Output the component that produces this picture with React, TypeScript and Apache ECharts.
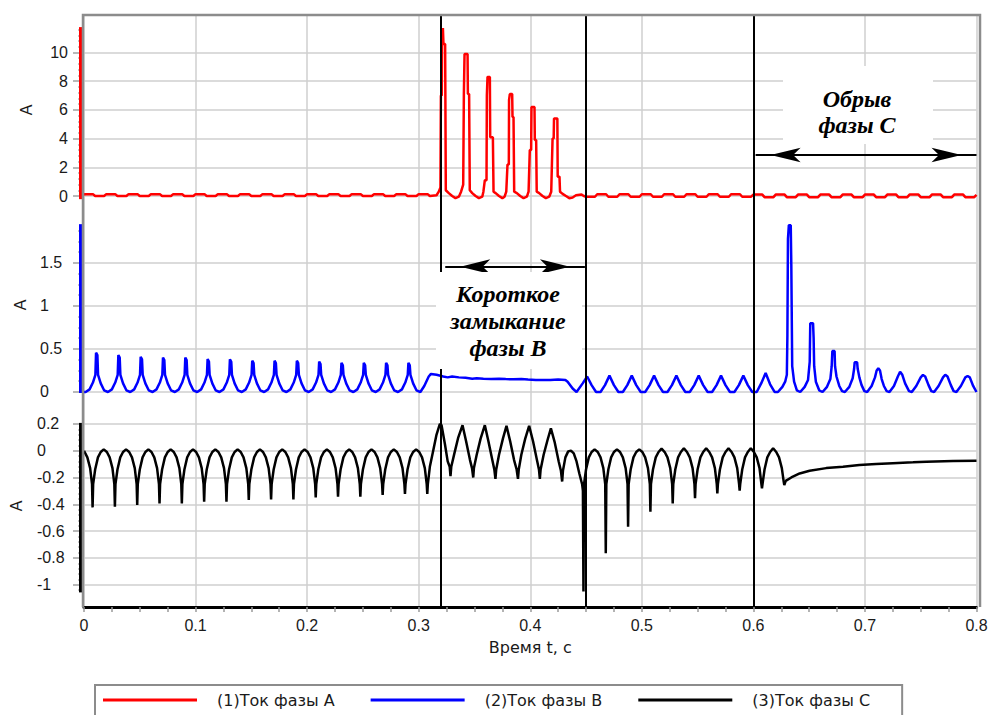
import React, { useEffect, useRef } from 'react';
import * as echarts from 'echarts';

// ---------- data ----------
const seriesNames = ['(1)Ток фазы А', '(2)Ток фазы В', '(3)Ток фазы С'];
const seriesColors = ['#ff0000', '#0000ff', '#000000'];
const xTickStep = 0.1;
const yTicksA = [0, 2, 4, 6, 8, 10];
const yTicksB = [0, 0.5, 1, 1.5];
const yTicksC = [0.2, 0, -0.2, -0.4, -0.6, -0.8, -1];
const eventTimes = [0.3238, 0.449, 0.602];
const shortCircuitArrow = { from: 0.3238, to: 0.449, level: 1.457 };
const openPhaseArrow = { from: 0.602, to: 0.8, level: 2.857 };

const phaseA = [
  [0.000, 0.08], [0.001, 0.13], [0.008, 0.13], [0.010, 0.00],
  [0.018, 0.00], [0.020, 0.13], [0.028, 0.13], [0.030, 0.00],
  [0.038, 0.00], [0.040, 0.13], [0.048, 0.13], [0.050, 0.00],
  [0.058, 0.00], [0.060, 0.13], [0.068, 0.13], [0.070, 0.00],
  [0.078, 0.00], [0.080, 0.13], [0.088, 0.13], [0.090, 0.00],
  [0.098, 0.00], [0.100, 0.13], [0.108, 0.13], [0.110, 0.00],
  [0.118, 0.00], [0.120, 0.13], [0.128, 0.13], [0.130, 0.00],
  [0.138, 0.00], [0.140, 0.13], [0.148, 0.13], [0.150, 0.00],
  [0.158, 0.00], [0.160, 0.13], [0.168, 0.13], [0.170, 0.00],
  [0.178, 0.00], [0.180, 0.13], [0.188, 0.13], [0.190, 0.00],
  [0.198, 0.00], [0.200, 0.13], [0.208, 0.13], [0.210, 0.00],
  [0.218, 0.00], [0.220, 0.13], [0.228, 0.13], [0.230, 0.00],
  [0.238, 0.00], [0.240, 0.13], [0.248, 0.13], [0.250, 0.00],
  [0.258, 0.00], [0.260, 0.13], [0.268, 0.13], [0.270, 0.00],
  [0.278, 0.00], [0.280, 0.13], [0.288, 0.13], [0.290, 0.00],
  [0.298, 0.00], [0.300, 0.13], [0.308, 0.13], [0.310, 0.00],
  [0.316, 0.05], [0.318, 0.30],
  [0.3195, 0.6], [0.3199, 7.0], [0.3207, 7.0], [0.3210, 11.3], [0.3217, 11.7], [0.3222, 10.6], [0.3237, 10.6], [0.3243, 0.4],
  [0.327, 0.2], [0.330, 0.0], [0.333, -0.15], [0.336, -0.05], [0.338, 0.3],
  [0.3399, 0.8], [0.3405, 7.1], [0.3411, 9.9], [0.3438, 9.9], [0.3441, 7.1], [0.3452, 7.1], [0.3458, 0.4],
  [0.348, 0.2], [0.351, 0.0], [0.354, -0.15], [0.357, -0.05], [0.358, 0.3],
  [0.3593, 1.1], [0.3608, 1.1], [0.3611, 7.0], [0.3617, 8.3], [0.3638, 8.3], [0.3641, 4.1], [0.3665, 4.1], [0.3671, 0.3],
  [0.369, 0.2], [0.372, 0.0], [0.375, -0.15], [0.377, -0.05], [0.3785, 0.3],
  [0.3796, 2.2], [0.3808, 2.2], [0.3810, 6.7], [0.3817, 7.1], [0.3838, 7.1], [0.3841, 5.5], [0.3850, 5.5], [0.3856, 0.3],
  [0.388, 0.2], [0.391, 0.0], [0.394, -0.15], [0.397, -0.05], [0.3985, 0.3],
  [0.3996, 3.2], [0.4008, 3.2], [0.4011, 6.2], [0.4038, 6.2], [0.4041, 3.9], [0.4053, 3.9], [0.4058, 0.3],
  [0.408, 0.2], [0.411, 0.0], [0.414, -0.15], [0.417, -0.05], [0.4188, 0.3],
  [0.4200, 4.0], [0.4210, 4.0], [0.4213, 5.4], [0.4243, 5.4], [0.4246, 1.35], [0.4262, 1.35], [0.4267, 0.3],
  [0.429, 0.15], [0.432, 0.0], [0.435, -0.15], [0.438, -0.1], [0.441, 0.05], [0.446, 0.1], [0.448, 0.0],
  [0.450, -0.05], [0.458, -0.05], [0.460, 0.12], [0.468, 0.12], [0.470, -0.05],
  [0.478, -0.05], [0.480, 0.12], [0.488, 0.12], [0.490, -0.05],
  [0.498, -0.05], [0.500, 0.12], [0.508, 0.12], [0.510, -0.05],
  [0.518, -0.05], [0.520, 0.12], [0.528, 0.12], [0.530, -0.05],
  [0.538, -0.05], [0.540, 0.12], [0.548, 0.12], [0.550, -0.05],
  [0.558, -0.05], [0.560, 0.12], [0.568, 0.12], [0.570, -0.05],
  [0.578, -0.05], [0.580, 0.12], [0.588, 0.12], [0.590, -0.05],
  [0.598, -0.05], [0.600, 0.10], [0.608, 0.10], [0.610, -0.08],
  [0.618, -0.08], [0.620, 0.10], [0.628, 0.10], [0.630, -0.08],
  [0.638, -0.08], [0.640, 0.10], [0.648, 0.10], [0.650, -0.08],
  [0.658, -0.08], [0.660, 0.10], [0.668, 0.10], [0.670, -0.08],
  [0.678, -0.08], [0.680, 0.10], [0.688, 0.10], [0.690, -0.08],
  [0.698, -0.08], [0.700, 0.10], [0.708, 0.10], [0.710, -0.08],
  [0.718, -0.08], [0.720, 0.10], [0.728, 0.10], [0.730, -0.08],
  [0.738, -0.08], [0.740, 0.10], [0.748, 0.10], [0.750, -0.08],
  [0.758, -0.08], [0.760, 0.10], [0.768, 0.10], [0.770, -0.08],
  [0.778, -0.08], [0.780, 0.10], [0.788, 0.10], [0.790, -0.08],
  [0.798, -0.08], [0.800, 0.08],
];

const phaseB = [
  [0.0000, 0.00], [0.0015, 0.00], [0.0050, 0.03], [0.0080, 0.11], [0.0102, 0.20], [0.0108, 0.457], [0.0120, 0.43], [0.0126, 0.20], [0.0150, 0.10], [0.0180, 0.02],
  [0.0215, 0.00], [0.0250, 0.03], [0.0280, 0.11], [0.0302, 0.20], [0.0308, 0.43], [0.0320, 0.40], [0.0326, 0.20], [0.0350, 0.10], [0.0380, 0.02],
  [0.0415, 0.00], [0.0450, 0.03], [0.0480, 0.11], [0.0502, 0.20], [0.0508, 0.41], [0.0520, 0.38], [0.0526, 0.20], [0.0550, 0.10], [0.0580, 0.02],
  [0.0615, 0.00], [0.0650, 0.03], [0.0680, 0.11], [0.0702, 0.20], [0.0708, 0.40], [0.0720, 0.37], [0.0726, 0.20], [0.0750, 0.10], [0.0780, 0.02],
  [0.0815, 0.00], [0.0850, 0.03], [0.0880, 0.11], [0.0902, 0.20], [0.0908, 0.40], [0.0920, 0.37], [0.0926, 0.20], [0.0950, 0.10], [0.0980, 0.02],
  [0.1015, 0.00], [0.1050, 0.03], [0.1080, 0.11], [0.1102, 0.20], [0.1108, 0.384], [0.1120, 0.355], [0.1126, 0.20], [0.1150, 0.10], [0.1180, 0.02],
  [0.1215, 0.00], [0.1250, 0.03], [0.1280, 0.11], [0.1302, 0.20], [0.1308, 0.38], [0.1320, 0.35], [0.1326, 0.20], [0.1350, 0.10], [0.1380, 0.02],
  [0.1415, 0.00], [0.1450, 0.03], [0.1480, 0.11], [0.1502, 0.20], [0.1508, 0.364], [0.1520, 0.335], [0.1526, 0.20], [0.1550, 0.10], [0.1580, 0.02],
  [0.1615, 0.00], [0.1650, 0.03], [0.1680, 0.11], [0.1702, 0.20], [0.1708, 0.364], [0.1720, 0.335], [0.1726, 0.20], [0.1750, 0.10], [0.1780, 0.02],
  [0.1815, 0.00], [0.1850, 0.03], [0.1880, 0.11], [0.1902, 0.20], [0.1908, 0.364], [0.1920, 0.335], [0.1926, 0.20], [0.1950, 0.10], [0.1980, 0.02],
  [0.2015, 0.00], [0.2050, 0.03], [0.2080, 0.11], [0.2102, 0.20], [0.2108, 0.353], [0.2120, 0.325], [0.2126, 0.20], [0.2150, 0.10], [0.2180, 0.02],
  [0.2215, 0.00], [0.2250, 0.03], [0.2280, 0.11], [0.2302, 0.20], [0.2308, 0.34], [0.2320, 0.31], [0.2326, 0.20], [0.2350, 0.10], [0.2380, 0.02],
  [0.2415, 0.00], [0.2450, 0.03], [0.2480, 0.11], [0.2502, 0.20], [0.2508, 0.34], [0.2520, 0.31], [0.2526, 0.20], [0.2550, 0.10], [0.2580, 0.02],
  [0.2615, 0.00], [0.2650, 0.03], [0.2680, 0.11], [0.2702, 0.20], [0.2708, 0.34], [0.2720, 0.31], [0.2726, 0.20], [0.2750, 0.10], [0.2780, 0.02],
  [0.2815, 0.00], [0.2850, 0.03], [0.2880, 0.11], [0.2902, 0.20], [0.2908, 0.34], [0.2920, 0.31], [0.2926, 0.20], [0.2950, 0.10], [0.2980, 0.02],
  [0.3015, 0.00], [0.3050, 0.07], [0.3090, 0.18], [0.3110, 0.21], [0.3160, 0.20], [0.3220, 0.18], [0.3260, 0.17], [0.3300, 0.18],
  [0.3360, 0.17], [0.3420, 0.165], [0.3480, 0.155], [0.3520, 0.16], [0.3580, 0.155], [0.3650, 0.15], [0.3720, 0.155], [0.3780, 0.15],
  [0.3850, 0.148], [0.3920, 0.15], [0.3980, 0.145], [0.4050, 0.14], [0.4120, 0.14], [0.4180, 0.14], [0.4250, 0.145], [0.4315, 0.14],
  [0.4335, 0.12], [0.4380, 0.04], [0.4415, 0.00],
  [0.4470, 0.10], [0.4510, 0.18], [0.4550, 0.08], [0.4590, 0.00],
  [0.4630, 0.00], [0.4670, 0.08], [0.4710, 0.19], [0.4750, 0.08], [0.4790, 0.00],
  [0.4830, 0.00], [0.4870, 0.08], [0.4910, 0.19], [0.4950, 0.08], [0.4990, 0.00],
  [0.5030, 0.00], [0.5070, 0.08], [0.5110, 0.19], [0.5150, 0.08], [0.5190, 0.00],
  [0.5230, 0.00], [0.5270, 0.08], [0.5310, 0.19], [0.5350, 0.08], [0.5390, 0.00],
  [0.5430, 0.00], [0.5470, 0.08], [0.5510, 0.19], [0.5550, 0.08], [0.5590, 0.00],
  [0.5630, 0.00], [0.5670, 0.08], [0.5710, 0.19], [0.5750, 0.08], [0.5790, 0.00],
  [0.5830, 0.00], [0.5870, 0.08], [0.5910, 0.19], [0.5950, 0.08], [0.5990, 0.00],
  [0.6030, 0.00], [0.6070, 0.10], [0.6110, 0.22], [0.6150, 0.09], [0.6190, 0.00],
  [0.6220, 0.00], [0.6260, 0.06], [0.6285, 0.12], [0.6300, 0.20], [0.6305, 0.66], [0.6310, 1.78], [0.6318, 1.94], [0.6335, 1.94], [0.6340, 1.48], [0.6348, 0.30], [0.6365, 0.12], [0.6390, 0.02],
  [0.6420, 0.00], [0.6460, 0.06], [0.6490, 0.14], [0.6505, 0.35], [0.6510, 0.80], [0.6535, 0.80], [0.6540, 0.63], [0.6545, 0.30], [0.6560, 0.12], [0.6590, 0.02],
  [0.6620, 0.00], [0.6660, 0.06], [0.6690, 0.15], [0.6702, 0.30], [0.6708, 0.477], [0.6728, 0.477], [0.6732, 0.30], [0.6745, 0.18], [0.6770, 0.07], [0.6795, 0.01],
  [0.6820, 0.00], [0.6860, 0.06], [0.6890, 0.16], [0.6903, 0.27], [0.6908, 0.345], [0.6930, 0.345], [0.6935, 0.27], [0.6950, 0.17], [0.6970, 0.08], [0.6995, 0.01],
  [0.7020, 0.00], [0.7060, 0.07], [0.7090, 0.17], [0.7105, 0.25], [0.7120, 0.275], [0.7135, 0.25], [0.7150, 0.15], [0.7170, 0.07], [0.7195, 0.01],
  [0.7220, 0.00], [0.7260, 0.07], [0.7295, 0.18], [0.7315, 0.236], [0.7335, 0.20], [0.7360, 0.10], [0.7395, 0.01],
  [0.7420, 0.00], [0.7460, 0.07], [0.7500, 0.17], [0.7520, 0.198], [0.7540, 0.18], [0.7570, 0.08], [0.7595, 0.01],
  [0.7620, 0.00], [0.7660, 0.07], [0.7700, 0.17], [0.7720, 0.20], [0.7740, 0.18], [0.7770, 0.08], [0.7795, 0.01],
  [0.7820, 0.00], [0.7860, 0.07], [0.7900, 0.17], [0.7920, 0.186], [0.7940, 0.17], [0.7970, 0.07], [0.8000, 0.00],
];

const phaseC = [
  [0.0000, 0.00], [0.0030, -0.05], [0.0055, -0.13], [0.0072, -0.25],
  [0.0077, -0.423],
  [0.0082, -0.25], [0.0100, -0.14], [0.0125, -0.05], [0.0150, -0.01], [0.0177, 0.01], [0.0205, -0.01], [0.0230, -0.05], [0.0255, -0.13], [0.0272, -0.25],
  [0.0277, -0.418],
  [0.0282, -0.25], [0.0300, -0.14], [0.0325, -0.05], [0.0350, -0.01], [0.0377, 0.01], [0.0405, -0.01], [0.0430, -0.05], [0.0455, -0.13], [0.0472, -0.25],
  [0.0477, -0.405],
  [0.0482, -0.25], [0.0500, -0.14], [0.0525, -0.05], [0.0550, -0.01], [0.0577, 0.01], [0.0605, -0.01], [0.0630, -0.05], [0.0655, -0.13], [0.0672, -0.25],
  [0.0677, -0.393],
  [0.0682, -0.25], [0.0700, -0.14], [0.0725, -0.05], [0.0750, -0.01], [0.0777, 0.01], [0.0805, -0.01], [0.0830, -0.05], [0.0855, -0.13], [0.0872, -0.25],
  [0.0877, -0.393],
  [0.0882, -0.25], [0.0900, -0.14], [0.0925, -0.05], [0.0950, -0.01], [0.0977, 0.01], [0.1005, -0.01], [0.1030, -0.05], [0.1055, -0.13], [0.1072, -0.25],
  [0.1077, -0.38],
  [0.1082, -0.25], [0.1100, -0.14], [0.1125, -0.05], [0.1150, -0.01], [0.1177, 0.01], [0.1205, -0.01], [0.1230, -0.05], [0.1255, -0.13], [0.1272, -0.25],
  [0.1277, -0.38],
  [0.1282, -0.25], [0.1300, -0.14], [0.1325, -0.05], [0.1350, -0.01], [0.1377, 0.01], [0.1405, -0.01], [0.1430, -0.05], [0.1455, -0.13], [0.1472, -0.25],
  [0.1477, -0.368],
  [0.1482, -0.25], [0.1500, -0.14], [0.1525, -0.05], [0.1550, -0.01], [0.1577, 0.01], [0.1605, -0.01], [0.1630, -0.05], [0.1655, -0.13], [0.1672, -0.25],
  [0.1677, -0.363],
  [0.1682, -0.25], [0.1700, -0.14], [0.1725, -0.05], [0.1750, -0.01], [0.1777, 0.01], [0.1805, -0.01], [0.1830, -0.05], [0.1855, -0.13], [0.1872, -0.25],
  [0.1877, -0.363],
  [0.1882, -0.25], [0.1900, -0.14], [0.1925, -0.05], [0.1950, -0.01], [0.1977, 0.01], [0.2005, -0.01], [0.2030, -0.05], [0.2055, -0.13], [0.2072, -0.25],
  [0.2077, -0.348],
  [0.2082, -0.25], [0.2100, -0.14], [0.2125, -0.05], [0.2150, -0.01], [0.2177, 0.01], [0.2205, -0.01], [0.2230, -0.05], [0.2255, -0.13], [0.2272, -0.25],
  [0.2277, -0.343],
  [0.2282, -0.25], [0.2300, -0.14], [0.2325, -0.05], [0.2350, -0.01], [0.2377, 0.01], [0.2405, -0.01], [0.2430, -0.05], [0.2455, -0.13], [0.2472, -0.25],
  [0.2477, -0.343],
  [0.2482, -0.25], [0.2500, -0.14], [0.2525, -0.05], [0.2550, -0.01], [0.2577, 0.01], [0.2605, -0.01], [0.2630, -0.05], [0.2655, -0.13], [0.2672, -0.25],
  [0.2677, -0.33],
  [0.2682, -0.25], [0.2700, -0.14], [0.2725, -0.05], [0.2750, -0.01], [0.2777, 0.01], [0.2805, -0.01], [0.2830, -0.05], [0.2855, -0.13], [0.2872, -0.25],
  [0.2877, -0.323],
  [0.2882, -0.25], [0.2900, -0.14], [0.2925, -0.05], [0.2950, -0.01], [0.2977, 0.01], [0.3005, -0.01], [0.3030, -0.05], [0.3055, -0.13], [0.3072, -0.25],
  [0.3077, -0.323],
  [0.3082, -0.25], [0.3100, -0.12], [0.3130, 0.00], [0.3160, 0.12], [0.3190, 0.20], [0.3205, 0.19], [0.3235, 0.05], [0.3260, -0.08], [0.3278, -0.12],
  [0.3285, -0.19], [0.3292, -0.12], [0.3320, -0.02], [0.3355, 0.10], [0.3393, 0.19], [0.3425, 0.07], [0.3460, -0.07], [0.3478, -0.13],
  [0.3489, -0.20], [0.3495, -0.13], [0.3520, -0.03], [0.3555, 0.09], [0.3593, 0.19], [0.3625, 0.07], [0.3660, -0.07], [0.3678, -0.14],
  [0.3688, -0.21], [0.3695, -0.14], [0.3720, -0.03], [0.3755, 0.09], [0.3787, 0.185], [0.3820, 0.07], [0.3855, -0.07], [0.3878, -0.14],
  [0.3890, -0.21], [0.3897, -0.14], [0.3920, -0.03], [0.3955, 0.09], [0.3990, 0.185], [0.4025, 0.07], [0.4060, -0.07], [0.4078, -0.14],
  [0.4086, -0.21], [0.4093, -0.14], [0.4120, -0.03], [0.4155, 0.08], [0.4185, 0.167], [0.4220, 0.06], [0.4255, -0.08], [0.4275, -0.15],
  [0.4286, -0.23], [0.4293, -0.15], [0.4315, -0.05], [0.4340, -0.005], [0.4365, 0.00], [0.4390, -0.02], [0.4415, -0.08], [0.4440, -0.17],
  [0.4465, -0.25], [0.4472, -0.30],
  [0.4477, -1.05],
  [0.4482, -0.25], [0.4500, -0.14], [0.4525, -0.05], [0.4550, -0.01], [0.4577, 0.01], [0.4605, -0.01], [0.4630, -0.05], [0.4655, -0.13], [0.4672, -0.25],
  [0.4677, -0.766],
  [0.4682, -0.25], [0.4700, -0.14], [0.4725, -0.05], [0.4750, -0.01], [0.4777, 0.01], [0.4805, -0.01], [0.4830, -0.05], [0.4855, -0.13], [0.4872, -0.25],
  [0.4877, -0.567],
  [0.4882, -0.25], [0.4900, -0.14], [0.4925, -0.05], [0.4950, -0.01], [0.4977, 0.01], [0.5005, -0.01], [0.5030, -0.05], [0.5055, -0.13], [0.5072, -0.25],
  [0.5077, -0.455],
  [0.5082, -0.25], [0.5100, -0.14], [0.5125, -0.05], [0.5150, -0.01], [0.5177, 0.015], [0.5205, -0.01], [0.5230, -0.05], [0.5255, -0.13], [0.5272, -0.25],
  [0.5277, -0.393],
  [0.5282, -0.25], [0.5300, -0.14], [0.5325, -0.05], [0.5350, -0.01], [0.5377, 0.018], [0.5405, -0.01], [0.5430, -0.05], [0.5455, -0.13], [0.5472, -0.25],
  [0.5477, -0.355],
  [0.5482, -0.25], [0.5500, -0.14], [0.5525, -0.05], [0.5550, -0.01], [0.5577, 0.018], [0.5605, -0.01], [0.5630, -0.05], [0.5655, -0.13], [0.5672, -0.25],
  [0.5677, -0.318],
  [0.5682, -0.25], [0.5700, -0.14], [0.5725, -0.05], [0.5750, -0.01], [0.5777, 0.018], [0.5805, -0.01], [0.5830, -0.05], [0.5855, -0.13], [0.5872, -0.25],
  [0.5877, -0.298],
  [0.5882, -0.25], [0.5900, -0.14], [0.5925, -0.05], [0.5950, -0.01], [0.5977, 0.018], [0.6005, -0.01], [0.6030, -0.05], [0.6055, -0.13], [0.6072, -0.25],
  [0.6077, -0.28],
  [0.6082, -0.25], [0.6100, -0.14], [0.6125, -0.05], [0.6150, -0.01], [0.6177, 0.018], [0.6205, -0.01], [0.6230, -0.05], [0.6255, -0.13], [0.6270, -0.22],
  [0.6277, -0.256],
  [0.6290, -0.225], [0.6340, -0.20], [0.6415, -0.17], [0.6504, -0.15], [0.6653, -0.13], [0.6803, -0.12], [0.6950, -0.107],
  [0.7100, -0.10], [0.7250, -0.094], [0.7430, -0.087], [0.7550, -0.082], [0.7790, -0.077], [0.8000, -0.075],
];

// ---------- layout ----------
const GRID_LEFT = 84;
const GRID_RIGHT = 13.5;
const panels = [
  { top: 15, height: 190, min: -0.627, max: 12.613, ticks: yTicksA, minorStep: 0.4, align: 'right', margin: 16, nameGap: 50, data: phaseA },
  { top: 205, height: 200, min: -0.1512, max: 2.1744, ticks: yTicksB, minorStep: 0.125, align: 'left', margin: 44, nameGap: 56, data: phaseB },
  { top: 405, height: 202, min: -1.1664, max: 0.341, ticks: yTicksC, minorStep: 0.04, align: 'left', margin: 47, nameGap: 60, data: phaseC },
];

const GRID_COLOR = '#cfcfcf';
const FRAME_COLOR = '#8c8c8c';
const TEXT_COLOR = '#1a1a1a';

function extent(arr: number[][]) {
  let lo = Infinity, hi = -Infinity;
  for (const p of arr) { if (p[1] < lo) lo = p[1]; if (p[1] > hi) hi = p[1]; }
  return [lo, hi];
}

function minorValues(lo: number, hi: number, step: number, majors: number[]) {
  const out: number[] = [];
  const n0 = Math.ceil(lo / step), n1 = Math.floor(hi / step);
  for (let n = n0; n <= n1; n++) {
    const v = +(n * step).toFixed(6);
    if (!majors.some((m) => Math.abs(m - v) < 1e-9)) out.push(v);
  }
  return out;
}

function buildOption() {
  const grid = panels.map((p) => ({
    left: GRID_LEFT, right: GRID_RIGHT, top: p.top, height: p.height,
    containLabel: false, outerBoundsMode: 'none',
  }));

  const xAxis = panels.map((p, i) => ({
    type: 'value', gridIndex: i, min: 0, max: 0.8, interval: xTickStep,
    axisLine: i === 2 ? { show: true, onZero: false, lineStyle: { color: '#000', width: 3 } } : { show: false },
    axisTick: i === 2 ? { show: true, length: 5, lineStyle: { color: '#9a9a9a', width: 1.5 } } : { show: false },
    minorTick: i === 2 ? { show: true, splitNumber: 4, length: 5, lineStyle: { color: '#9a9a9a', width: 1.5 } } : { show: false },
    axisLabel: i === 2 ? { show: true, margin: 10, fontSize: 16, fontFamily: 'Liberation Sans', color: TEXT_COLOR } : { show: false },
    splitLine: { show: true, lineStyle: { color: GRID_COLOR, width: 1.5 } },
    name: i === 2 ? 'Время t, с' : '',
    nameLocation: 'middle', nameGap: 32,
    nameTextStyle: { fontSize: 16, fontFamily: 'DejaVu Sans', color: TEXT_COLOR },
  }));

  const yAxis: any[] = [];
  panels.forEach((p, i) => {
    const [lo, hi] = extent(p.data);
    yAxis.push({
      type: 'value', gridIndex: i, min: p.min, max: p.max, position: 'left',
      axisLine: { show: false },
      axisTick: { show: true, customValues: p.ticks, length: 11, lineStyle: { color: '#a0a0a0', width: 1.5 } },
      axisLabel: { show: true, customValues: p.ticks, align: p.align, margin: p.margin, fontSize: 16, fontFamily: 'Liberation Sans', color: TEXT_COLOR },
      splitLine: { show: true, lineStyle: { color: GRID_COLOR, width: 1.5 } },
      name: 'А', nameLocation: 'middle', nameGap: p.nameGap,
      nameTextStyle: { fontSize: 16, fontFamily: 'Liberation Sans', color: TEXT_COLOR },
    });
    yAxis.push({
      type: 'value', gridIndex: i, min: p.min, max: p.max, position: 'left',
      axisLine: { show: false }, axisLabel: { show: false }, splitLine: { show: false },
      axisTick: { show: true, customValues: minorValues(lo, hi, p.minorStep, p.ticks), length: 6, lineStyle: { color: '#b4b4b4', width: 1.5 } },
    });
  });

  const series: any[] = [];
  panels.forEach((p, i) => {
    const markData: any[] = eventTimes.map((t) => ({ xAxis: t }));
    const arrow = i === 1 ? shortCircuitArrow : i === 0 ? openPhaseArrow : null;
    if (arrow) {
      const end = { symbol: 'arrow', symbolSize: [11, 30], symbolOffset: [0, 15] };
      markData.push([
        { coord: [arrow.from, arrow.level], ...end },
        { coord: [arrow.to, arrow.level], ...end },
      ]);
    }
    series.push({
      type: 'line', name: seriesNames[i], xAxisIndex: i, yAxisIndex: i * 2,
      data: p.data, showSymbol: false, symbol: 'none',
      lineStyle: { color: seriesColors[i], width: 2.5 },
      itemStyle: { color: seriesColors[i] },
      emphasis: { disabled: true },
      z: 3,
      markLine: {
        silent: true, symbol: ['none', 'none'], label: { show: false },
        lineStyle: { color: '#000', width: 2, type: 'solid' },
        emphasis: { disabled: true },
        data: markData,
      },
    });
    const [lo, hi] = extent(p.data);
    series.push({
      type: 'custom', name: 'range' + i, xAxisIndex: i, yAxisIndex: i * 2,
      silent: true, clip: false, z: 4,
      data: [[0, hi, lo]],
      encode: { x: 0, y: [1, 2] },
      renderItem: (params: any, api: any) => {
        const a = api.coord([api.value(0), api.value(1)]);
        const b = api.coord([api.value(0), api.value(2)]);
        return {
          type: 'rect',
          shape: { x: a[0] - 5, y: a[1] - 1, width: 3, height: b[1] - a[1] + 2 },
          style: { fill: seriesColors[i] },
        };
      },
    });
  });

  const noteFont = { fontFamily: 'Liberation Serif', fontSize: 24, fontWeight: 'bold', fontStyle: 'italic' };

  return {
    animation: false,
    backgroundColor: '#ffffff',
    grid, xAxis, yAxis, series,
    legend: {
      data: seriesNames, left: 95, top: 685,
      padding: [7, 32, 30, 8],
      icon: 'rect',
      itemWidth: 94, itemHeight: 3, itemGap: 36,
      borderColor: FRAME_COLOR, borderWidth: 2,
      selectedMode: false,
      textStyle: { fontSize: 16, fontFamily: 'DejaVu Sans', color: TEXT_COLOR, padding: [0, 0, 0, 15] },
    },
    graphic: [
      {
        type: 'polyline', silent: true, z: 50,
        shape: { points: [[83, 607], [83, 15], [980, 15], [980, 607]] },
        style: { fill: 'none', stroke: FRAME_COLOR, lineWidth: 2.5 },
      },
      { type: 'rect', silent: true, z: 60, shape: { x: 436, y: 272, width: 146, height: 97 }, style: { fill: '#ffffff' } },
      {
        type: 'text', silent: true, z: 61, x: 508, y: 321,
        style: { text: 'Короткое\nзамыкание\nфазы В', ...noteFont, fill: '#000', align: 'center', verticalAlign: 'middle', lineHeight: 27 },
      },
      { type: 'rect', silent: true, z: 60, shape: { x: 783, y: 66, width: 150, height: 78 }, style: { fill: '#ffffff' } },
      {
        type: 'text', silent: true, z: 61, x: 857, y: 112,
        style: { text: 'Обрыв\nфазы С', ...noteFont, fill: '#000', align: 'center', verticalAlign: 'middle', lineHeight: 26 },
      },
    ],
  };
}

export default function App() {
  const ref = useRef<HTMLDivElement>(null);
  useEffect(() => {
    if (!ref.current) return;
    const chart = echarts.init(ref.current, undefined, { renderer: 'svg' });
    chart.setOption(buildOption() as any);
    return () => chart.dispose();
  }, []);
  return (
    <div
      ref={ref}
      style={{ position: 'absolute', left: 0, top: 0, width: 990, height: 715, background: '#fff' }}
    />
  );
}
